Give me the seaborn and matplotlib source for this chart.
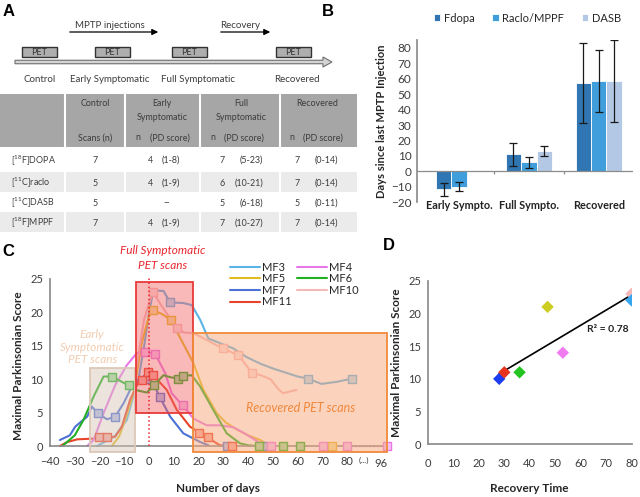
import matplotlib
matplotlib.use("Agg")
import matplotlib.pyplot as plt
from matplotlib.colors import to_rgb
from matplotlib.patches import Rectangle, FancyArrow
import numpy as np
import pandas as pd
import seaborn as sns

# ---------------- data ----------------
# panel A: timeline + table
timeline_stages = ["Control", "Early Symptomatic", "Full Symptomatic", "Recovered"]
tracers = [r"[$^{18}$F]DOPA", r"[$^{11}$C]raclo", r"[$^{11}$C]DASB", r"[$^{18}$F]MPPF"]
control_scans = ["7", "5", "5", "7"]
early_n = ["4", "4", "--", "4"]
early_pd = ["(1-8)", "(1-9)", "", "(1-9)"]
full_n = ["7", "6", "5", "7"]
full_pd = ["(5-23)", "(10-21)", "(6-18)", "(10-27)"]
recovered_n = ["7", "7", "5", "7"]
recovered_pd = ["(0-14)", "(0-14)", "(0-11)", "(0-14)"]

# panel B: days since last MPTP injection
stage_b = ["Early Sympto.", "Full Sympto.", "Recovered"]
tracer_b = ["Fdopa", "Raclo/MPPF", "DASB"]
fdopa_days = [-11.7, 11.0, 57.0]
fdopa_sd = [4.0, 7.2, 26.0]
raclo_days = [-9.8, 5.8, 58.3]
raclo_sd = [3.2, 3.5, 20.0]
dasb_days = [np.nan, 13.0, 58.3]
dasb_sd = [np.nan, 3.2, 26.5]
colors_b = ["#2f76b2", "#3f9edb", "#b3c8e4"]

# panel C: maximal parkinsonian score over time
mf3_days = [-21, -14, -9, -6.4, -4.3, -2, 0, 1.7, 5.8, 8.5, 13.8, 17.2, 20.6, 23.9, 28.6,
            34, 39.4, 45, 50, 55, 60, 64, 69.6, 75.6, 82]
mf3_score = [0, 1.4, 3.9, 7.4, 10, 15, 20, 23.3, 23.2, 21.5, 21.4, 21.1, 18.9, 16.1, 15.4,
             14.6, 13.3, 12.3, 11.6, 11, 10.4, 10.1, 9.3, 9.6, 10.1]
mf3_scan_days = [8.5, 64, 82]
mf3_scan_score = [21.5, 10.1, 10.1]

mf4_days = [-25, -22.4, -18.4, -13.7, -9, -5, -1.6, 2.4, 6.5, 9.1, 13.5, 17.9, 23.3, 28.6,
            34, 38, 42, 46]
mf4_score = [0, 0.9, 4.9, 9.1, 12.1, 13.9, 14.1, 13.8, 10.9, 7.9, 6.1, 4.1, 3.1, 3.1,
             2.8, 2.0, 1.1, 0.1]
mf4_scan_days = [-1.6, 2.4, 13.5, 49, 70, 80, 96]
mf4_scan_score = [14.1, 13.8, 6.1, 0, 0, 0, 0]

mf5_days = [-15, -12, -9.7, -6.3, -3, 0, 1.5, 5, 8.7, 13.5, 17.9, 21.9, 27.3, 31, 35.3,
            40, 44.8, 48]
mf5_score = [0, 1.5, 3.9, 7.9, 15.4, 19.5, 20.3, 19.8, 18.9, 15.5, 12.4, 8.4, 4.9, 3.5,
             2.5, 1.6, 0.9, 0.2]
mf5_scan_days = [1.5, 8.7, 74]
mf5_scan_score = [20.3, 18.9, 0]

mf6_days = [-35, -30, -26.5, -22.4, -18.4, -14.8, -11, -8.3, -5.6, -0.9, 2, 5.8, 8.5,
            11.8, 13.6, 17.2, 20.6, 25.9, 31.3, 36.7, 40, 44.4]
mf6_score = [0, 1.6, 3.9, 7.4, 10.4, 10.4, 9.6, 9.1, 8.4, 8.0, 9.1, 10.6, 10.3,
             10.1, 10.5, 10.6, 8.9, 5.4, 1.9, 0.4, 0.1, 0]
mf6_scan_days = [-14.8, -8.3, 2, 11.8, 13.6, 44.4, 54, 61]
mf6_scan_score = [10.4, 9.1, 9.1, 10.1, 10.5, 0, 0, 0]

mf7_days = [-36, -32, -29.8, -25, -23.1, -20.7, -17, -13.7, -10.3, -7, -4.3, -0.9, 1.5,
            4.2, 8.5, 13.8, 20.6, 24]
mf7_score = [0.9, 1.6, 2.9, 4.4, 5.9, 4.9, 4.0, 4.4, 6.4, 8.9, 9.9, 10.1, 9.5,
             7.4, 4.4, 1.9, 0.6, 0.1]
mf7_scan_days = [-20.7, -13.7, -0.9, 4.2, 31.3, 46.4]
mf7_scan_score = [4.9, 4.4, 10.1, 7.4, 0, 0]

mf10_days = [-5, -2, 1.5, 5, 11.2, 14, 17.9, 24.6, 29.7, 36, 41.4, 45, 49, 52, 54, 59.5]
mf10_score = [12, 19, 23.1, 21, 17.6, 17, 16.9, 15.6, 14.6, 13.6, 11, 10.6, 10, 8.6, 7.9, 8.4]
mf10_scan_days = [1.5, 11.2, 29.7, 36, 41.4]
mf10_scan_score = [23.1, 17.6, 14.6, 13.6, 11.0]

mf11_days = [-36, -33, -29, -23, -20.4, -17, -13.7, -11, -7.7, -4.3, -2.9, -0.3, 1.7,
             7.1, 11.2, 16.5, 20.3, 23.9, 26, 28.6, 33.6]
mf11_score = [0, 0.6, 1.0, 1.1, 1.3, 1.3, 1.4, 2.9, 6.9, 9.6, 9.9, 11.1, 10.6,
              8.4, 5.4, 2.9, 2.0, 1.3, 0.7, 0.1, 0]
mf11_scan_days = [-20.4, -17, -2.9, -0.3, 1.7, 20.3, 23.9, 33.6]
mf11_scan_score = [1.3, 1.3, 9.9, 11.1, 10.6, 2.0, 1.3, 0]

# PET scan windows (early / full / recovered)
window_start = [-24, -5.2, 17.7]
window_end = [-5.6, 17.7, 96]
window_top = [11.7, 24.5, 16.9]
window_bottom = [-0.9, 5.0, -0.9]

# panel D: recovery time vs maximal score
subjects_d = ["MF10", "MF4", "MF5", "MF6", "MF7", "MF11", "MF3"]
recovery_time = [80, 53, 47, 36, 28, 30, 80]
max_score = [23, 14, 21, 11, 10, 11, 22]
colors_d = ["#f5b8b8", "#f07cf0", "#cccc22", "#22c422", "#1e3cf0", "#e8321e", "#36a6ef"]

# ---------------- style ----------------
sns.set_theme(style="white")
plt.rcParams["font.family"] = ["Lato", "DejaVu Sans"]
plt.rcParams["mathtext.fontset"] = "custom"
plt.rcParams["mathtext.rm"] = "Lato"
plt.rcParams["mathtext.it"] = "Lato:italic"
plt.rcParams["mathtext.bf"] = "Lato:bold"
TXT = "#3c3c3c"
SPINE = "#8c8c8c"

fig = plt.figure(figsize=(6.4, 4.97), dpi=100)

# overlay in pixel coordinates for panel A and the letters
ax_a = fig.add_axes([0, 0, 1, 1], zorder=-1)
ax_a.set_xlim(0, 640)
ax_a.set_ylim(497, 0)
ax_a.axis("off")

for lbl, xy in zip("ABCD", [(9, 11), (328, 12), (8, 251), (389, 246)]):
    ax_a.text(*xy, lbl, fontsize=12, fontweight="bold", family="Liberation Sans",
              ha="center", va="center", color="black")

# timeline
ax_a.add_patch(FancyArrow(15, 62, 308, 0, width=3.5, head_width=10, head_length=9,
                          length_includes_head=False, fc="#d4d4d4", ec="#6e6e6e", lw=0.8))
for x0 in [22, 95, 172, 276]:
    ax_a.add_patch(Rectangle((x0, 47), 35, 10, fc="#aeaeae", ec="#333333", lw=1))
    ax_a.text(x0 + 17.5, 52.3, "PET", fontsize=6.5, ha="center", va="center", color="#333333")
for name, xc in zip(timeline_stages, [40, 110, 198, 297]):
    ax_a.text(xc, 80, name, fontsize=7, ha="center", va="center", color=TXT)
ax_a.text(110, 25, "MPTP injections", fontsize=7, ha="center", va="center", color=TXT)
ax_a.annotate("", xy=(161, 32), xytext=(67, 32),
              arrowprops=dict(arrowstyle="-|>", color="black", lw=0.9, mutation_scale=9))
ax_a.text(240, 25, "Recovery", fontsize=7, ha="center", va="center", color=TXT)
ax_a.annotate("", xy=(273, 32), xytext=(218, 32),
              arrowprops=dict(arrowstyle="-|>", color="black", lw=0.9, mutation_scale=9))

# table
col_edges = [0, 65, 125, 200, 280, 357]
row_edges = [147, 172, 192, 212, 232]
ax_a.add_patch(Rectangle((0, 94), 357, 53, fc="#a6a6a6", ec="none"))
for i in range(4):
    ax_a.add_patch(Rectangle((0, row_edges[i]), 357, row_edges[i + 1] - row_edges[i],
                             fc="#ebebeb" if i % 2 else "white", ec="none"))
for xe in col_edges[1:-1]:
    ax_a.plot([xe, xe], [94, row_edges[-1]], color="white", lw=1.5)

fs_t = 6.4
ax_a.text(95, 104, "Control", fontsize=fs_t, ha="center", va="center", color=TXT)
ax_a.text(95, 138, "Scans (n)", fontsize=fs_t, ha="center", va="center", color=TXT)
for xc, head in zip([162, 241, 317], ["Early", "Full", "Recovered"]):
    ax_a.text(xc, 104, head, fontsize=fs_t, ha="center", va="center", color=TXT)
for xc in [162, 241]:
    ax_a.text(xc, 117, "Symptomatic", fontsize=fs_t, ha="center", va="center", color=TXT)
for nx, pl in zip([138, 213, 292], [150, 224, 303]):
    ax_a.text(nx, 138, "n", fontsize=fs_t, ha="center", va="center", color=TXT)
    ax_a.text(pl, 138, "(PD score)", fontsize=fs_t, ha="left", va="center", color=TXT)

n_x = [150, 222, 297]
pd_right = [180, 263, 338]
for i in range(4):
    yc = (row_edges[i] + row_edges[i + 1]) / 2 + 1
    ax_a.text(11, yc, tracers[i], fontsize=fs_t, ha="left", va="center", color=TXT)
    ax_a.text(95, yc, control_scans[i], fontsize=fs_t, ha="center", va="center", color=TXT)
    for nlist, pdlist, nx, pr in zip([early_n, full_n, recovered_n],
                                     [early_pd, full_pd, recovered_pd], n_x, pd_right):
        if nlist[i] == "--":
            ax_a.text(167, yc, "--", fontsize=fs_t, ha="center", va="center", color=TXT)
            continue
        ax_a.text(nx, yc, nlist[i], fontsize=fs_t, ha="center", va="center", color=TXT)
        ax_a.text(pr, yc, pdlist[i], fontsize=fs_t, ha="right", va="center", color=TXT)

# ---------------- panel B ----------------
ax_b = fig.add_axes([417 / 640, 1 - 202.3 / 497, 216 / 640, 162.3 / 497])
df_b = pd.DataFrame({
    "stage": stage_b * 3,
    "tracer": np.repeat(tracer_b, 3),
    "days": fdopa_days + raclo_days + dasb_days,
    "sd": fdopa_sd + raclo_sd + dasb_sd,
}).dropna()
sns.barplot(data=df_b, x="stage", y="days", hue="tracer", order=stage_b, hue_order=tracer_b,
            palette=colors_b, width=0.66, errorbar=None, saturation=1, legend=False,
            edgecolor="white", linewidth=0.6, ax=ax_b)
for cont, tr in zip(ax_b.containers, tracer_b):
    sub = df_b[df_b["tracer"] == tr]
    for bar, val, s in zip(cont, sub["days"], sub["sd"]):
        ax_b.errorbar(bar.get_x() + bar.get_width() / 2, val, yerr=s, color="#1a1a1a",
                      lw=0.9, capsize=3, capthick=0.9)
ax_b.set_xlim(-0.6, 2.49)
ax_b.set_ylim(-20, 85)
ax_b.set_yticks(range(-20, 81, 10))
ax_b.axhline(0, color=SPINE, lw=0.9)
ax_b.vlines([0.5, 1.5, 2.5], -1.8, 0, color=SPINE, lw=0.9)
for s in ["top", "right", "bottom"]:
    ax_b.spines[s].set_visible(False)
ax_b.spines["left"].set_color(SPINE)
ax_b.spines["left"].set_bounds(-20, 85)
ax_b.tick_params(axis="y", length=3, color=SPINE, labelsize=8.5, labelcolor=TXT, pad=1)
ax_b.tick_params(axis="x", length=0, labelsize=7.8, pad=-2)
for t in ax_b.get_xticklabels():
    t.set_fontweight("bold")
    t.set_color("#222222")
ax_b.set_xlabel("")
ax_b.set_ylabel("Days since last MPTP Injection", fontsize=8, fontweight="bold", labelpad=3)
ax_b.legend(ax_b.containers, tracer_b, ncol=3, loc="center", bbox_to_anchor=(0.51, 1.135),
            frameon=False, fontsize=8, handlelength=0.6, handleheight=0.6,
            handletextpad=0.3, columnspacing=1.6)
ax_b.patch.set_alpha(0)

# ---------------- panel C ----------------
ax_c = fig.add_axes([50 / 640, 1 - 452.7 / 497, 337 / 640, 173.7 / 497])
curves = [
    ("MF3", "#5bb4e6", mf3_days, mf3_score, mf3_scan_days, mf3_scan_score),
    ("MF5", "#e2bd22", mf5_days, mf5_score, mf5_scan_days, mf5_scan_score),
    ("MF7", "#4d72d6", mf7_days, mf7_score, mf7_scan_days, mf7_scan_score),
    ("MF11", "#e8432b", mf11_days, mf11_score, mf11_scan_days, mf11_scan_score),
    ("MF4", "#e878e8", mf4_days, mf4_score, mf4_scan_days, mf4_scan_score),
    ("MF6", "#22b022", mf6_days, mf6_score, mf6_scan_days, mf6_scan_score),
    ("MF10", "#f5b8b8", mf10_days, mf10_score, mf10_scan_days, mf10_scan_score),
]
for name, col, xd, yd, xs, ys in curves:
    sns.lineplot(x=xd, y=yd, sort=False, estimator=None, color=col, lw=1.5,
                 label=name, ax=ax_c, zorder=2)
for name, col, xd, yd, xs, ys in curves:
    face = tuple(0.45 * np.array(to_rgb(col)) + 0.55)
    sns.scatterplot(x=xs, y=ys, marker="s", s=28, color=face, edgecolor=col,
                    linewidth=1.0, legend=False, ax=ax_c, zorder=3, clip_on=False)
ax_c.plot(mf4_scan_days[-2:], mf4_scan_score[-2:], ls=":", color="#e878e8", lw=1, zorder=2)

fills = ["#d8c3b4", "#f26464", "#f9a87c"]
edges = ["#dcc8b8", "#e83a3a", "#f08a3c"]
alphas = [0.45, 0.45, 0.5]
for x0, x1, y0, y1, fc, ec, al in zip(window_start, window_end, window_bottom, window_top,
                                      fills, edges, alphas):
    ax_c.add_patch(Rectangle((x0, y0), x1 - x0, y1 - y0, fc=fc, ec="none", alpha=al, zorder=4))
    ax_c.add_patch(Rectangle((x0, y0), x1 - x0, y1 - y0, fc="none", ec=ec, lw=1.3, zorder=4,
                             clip_on=False))
ax_c.vlines(0, 0, 25.5, color="#e8262e", ls=":", lw=1.1, zorder=5, clip_on=False)

ax_c.set_xlim(-40, 96)
ax_c.set_ylim(-1, 25)
ax_c.set_xticks(range(-40, 81, 10))
ax_c.set_xticks(range(-35, 96, 10), minor=True)
ax_c.set_yticks(range(0, 26, 5))
ax_c.spines["bottom"].set_position(("data", 0))
ax_c.spines["bottom"].set_color(SPINE)
ax_c.spines["left"].set_color(SPINE)
ax_c.spines["left"].set_bounds(0, 25)
for s in ["top", "right"]:
    ax_c.spines[s].set_visible(False)
ax_c.tick_params(axis="x", which="major", length=0, labelsize=8, labelcolor=TXT, pad=7)
ax_c.tick_params(axis="x", which="minor", length=3, direction="inout", color=SPINE)
ax_c.tick_params(axis="y", length=3, color=SPINE, labelsize=8, labelcolor=TXT, pad=2)
ax_c.text(86.5, -2.1, "(...)", fontsize=6, ha="center", va="center", color=TXT)
ax_c.text(93.5, -2.6, "96", fontsize=8, ha="center", va="center", color=TXT)
ax_c.set_xlabel("Number of days", fontsize=8.5, fontweight="bold", labelpad=12)
ax_c.set_ylabel("Maximal Parkinsonian Score", fontsize=8.5, fontweight="bold", labelpad=4)

ax_c.text(5.6, 29.3, "Full Symptomatic", color="#e8262e", style="italic", fontsize=8.5,
          ha="center", va="center", clip_on=False)
ax_c.text(5.6, 27.0, "PET scans", color="#e8262e", style="italic", fontsize=8.5,
          ha="center", va="center", clip_on=False)
ax_c.text(-23, 14.8, "Early\nSymptomatic\nPET scans", color="#f2ccb0", style="italic",
          fontsize=8.5, ha="center", va="center", linespacing=1.15)
ax_c.text(61.3, 5.7, "Recovered PET scans", color="#f0873a", style="italic", fontsize=9,
          ha="center", va="center", zorder=6)
leg = ax_c.legend(ncol=2, loc="upper left", bbox_to_anchor=(0.52, 1.125), frameon=False,
                  fontsize=8, handlelength=2.7, labelspacing=0.05, columnspacing=0.5,
                  handletextpad=0.2, borderaxespad=0)
leg.set_zorder(7)
ax_c.patch.set_alpha(0)

# ---------------- panel D ----------------
ax_d = fig.add_axes([428 / 640, 1 - 444.3 / 497, 203.5 / 640, 163.6 / 497])
sns.regplot(x=recovery_time, y=max_score, scatter=False, ci=None, color="black",
            line_kws=dict(lw=1.2), ax=ax_d)
sns.scatterplot(x=recovery_time, y=max_score, hue=subjects_d, palette=colors_d,
                marker="D", s=40, edgecolor="none", legend=False, ax=ax_d, zorder=3)
r2 = np.corrcoef(recovery_time, max_score)[0, 1] ** 2
ax_d.text(79, 17.6, f"R² = {r2:.2f}", fontsize=7.5, fontweight="bold", ha="right",
          va="center", color="#222222")
ax_d.set_xlim(0, 80)
ax_d.set_ylim(0, 25)
ax_d.set_xticks(range(0, 81, 10))
ax_d.set_yticks(range(0, 26, 5))
for s in ["top", "right"]:
    ax_d.spines[s].set_visible(False)
for s in ["left", "bottom"]:
    ax_d.spines[s].set_color(SPINE)
ax_d.tick_params(length=3, color=SPINE, labelsize=8, labelcolor=TXT, pad=7)
ax_d.tick_params(axis="y", pad=2)
ax_d.set_xlabel("Recovery Time", fontsize=8.5, fontweight="bold", labelpad=10)
ax_d.set_ylabel("Maximal Parkinsonian Score", fontsize=8.5, fontweight="bold", labelpad=4)
ax_d.patch.set_alpha(0)

fig.savefig("out.png", dpi=100)
